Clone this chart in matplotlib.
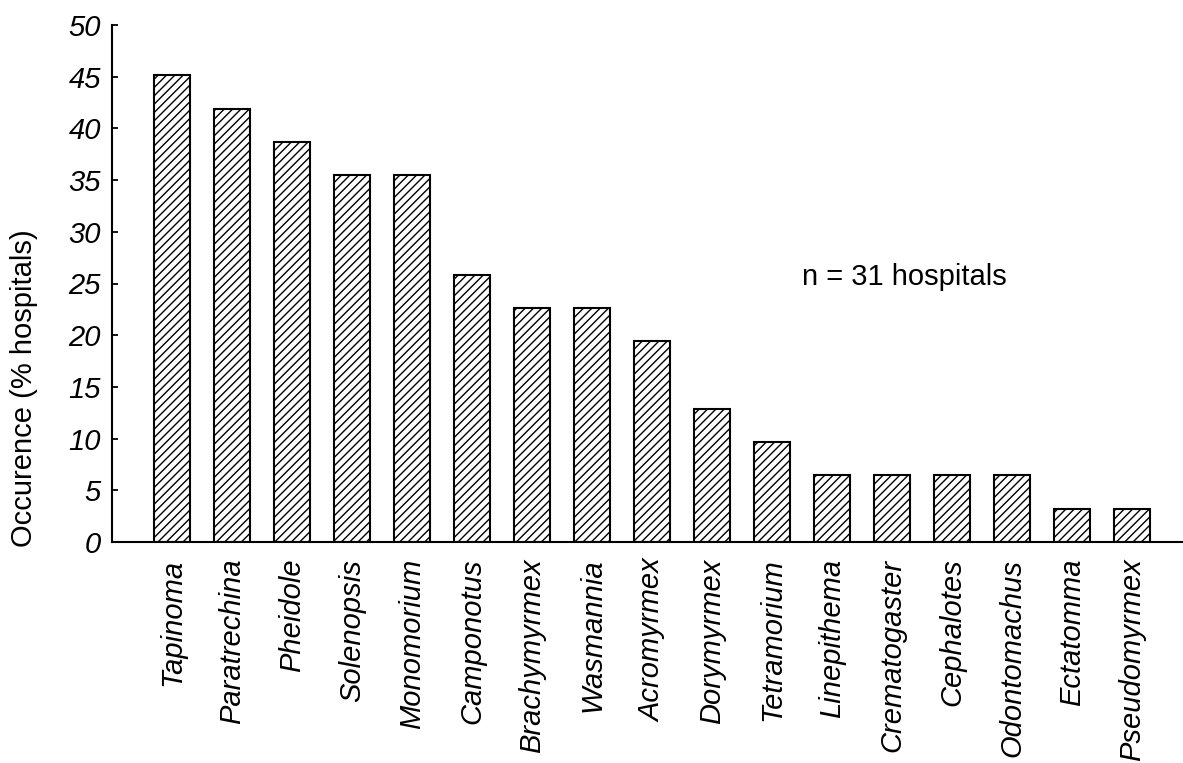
import matplotlib
matplotlib.use("Agg")
import matplotlib.pyplot as plt

genera = ["Tapinoma", "Paratrechina", "Pheidole", "Solenopsis", "Monomorium",
          "Camponotus", "Brachymyrmex", "Wasmannia", "Acromyrmex", "Dorymyrmex",
          "Tetramorium", "Linepithema", "Crematogaster", "Cephalotes",
          "Odontomachus", "Ectatomma", "Pseudomyrmex"]
occurrence = [45.2, 41.9, 38.7, 35.5, 35.5, 25.8, 22.6, 22.6, 19.4, 12.9,
              9.7, 6.5, 6.5, 6.5, 6.5, 3.2, 3.2]
yticks = [0, 5, 10, 15, 20, 25, 30, 35, 40, 45, 50]

plt.rcParams['font.family'] = ['Liberation Sans', 'DejaVu Sans']
plt.rcParams['hatch.linewidth'] = 1.0
plt.rcParams['hatch.color'] = '#333333'

W, H = 1183, 763
fig = plt.figure(figsize=(W / 100, H / 100), dpi=100)
ax = fig.add_axes([112 / W, 1 - 542 / H, 1 - 112 / W, 517 / H])

x = list(range(len(genera)))
ax.bar(x, occurrence, width=0.6, color='white', edgecolor='black',
       linewidth=1.5, hatch='////', zorder=2)

FS = 21
ax.set_xlim(-1, 16.85)
ax.set_ylim(0, 50)
ax.set_yticks(yticks)
ax.set_yticklabels([str(v) for v in yticks], fontsize=FS, style='italic')
ax.set_xticks(x)
ax.set_xticklabels(genera, rotation=90, fontsize=FS, style='italic')
ax.tick_params(axis='y', direction='in', length=4, width=1.3, pad=8)
ax.tick_params(axis='x', direction='in', length=3, width=1.0, pad=12)

for s in ['top', 'right']:
    ax.spines[s].set_visible(False)
ax.spines['left'].set_linewidth(1.5)
ax.spines['bottom'].set_linewidth(1.5)

fig.text(24 / W, 1 - 388 / H, "Occurence (% hospitals)", fontsize=FS,
         rotation=90, ha='center', va='center')
ax.text(10.5, 25.6, "n = 31 hospitals", fontsize=FS, ha='left', va='center')

fig.savefig("out.png", dpi=100)
